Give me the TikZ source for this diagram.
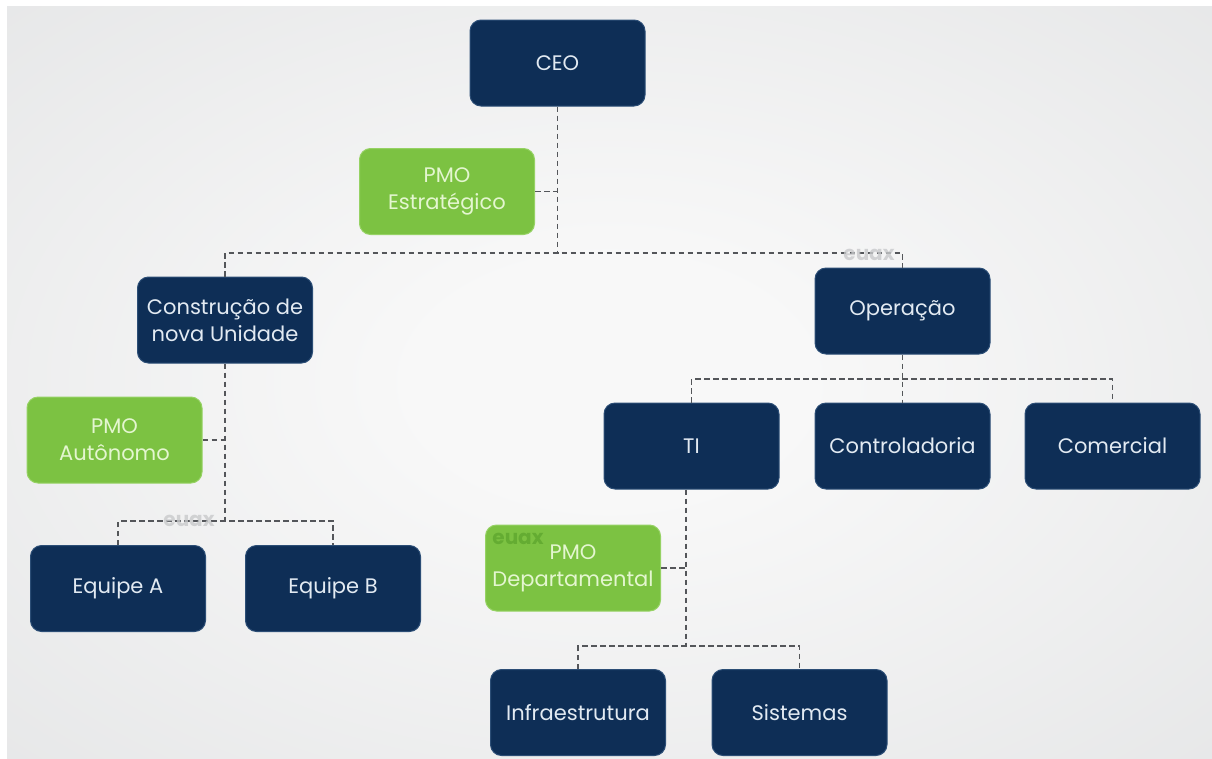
\documentclass[tikz,border=0pt]{standalone}
\usepackage{fontspec}
\setmainfont{Poppins}
\definecolor{navy}{RGB}{14,46,86}
\definecolor{navyedge}{RGB}{44,78,118}
\definecolor{navytext}{RGB}{226,234,242}
\definecolor{leaf}{RGB}{124,194,66}
\definecolor{leafedge}{RGB}{150,210,100}
\definecolor{leaftext}{RGB}{228,246,208}
\definecolor{linkgray}{RGB}{84,86,90}
\definecolor{bgcenter}{RGB}{248,248,248}
\definecolor{bgmid}{RGB}{227,228,229}
\definecolor{bgedge}{RGB}{208,209,211}
\definecolor{markgray}{RGB}{200,201,203}
\definecolor{markgreen}{RGB}{100,172,50}
\pgfdeclareradialshading{vignette}{\pgfpoint{0bp}{0bp}}{%
  color(0bp)=(bgcenter); color(8bp)=(bgcenter); color(42bp)=(bgmid); color(72bp)=(bgedge)}
\begin{document}
\begin{tikzpicture}[x=1pt,y=-1pt,
  box/.style={rectangle, rounded corners=11pt, minimum width=175pt, minimum height=86pt,
    align=center, inner sep=0pt, line width=1pt, font=\fontsize{21}{27}\selectfont},
  unit/.style={box, fill=navy, draw=navyedge, text=navytext},
  pmo/.style={box, fill=leaf, draw=leafedge, text=leaftext},
  link/.style={draw=linkgray, dash pattern=on 5.5pt off 3.5pt, line width=1.7pt},
  brand/.style={font=\fontsize{20}{20}\selectfont\bfseries, inner sep=0pt}]

% page and soft vignette background
\useasboundingbox (0,0) rectangle (1212,758);
\fill[white] (0,0) rectangle (1212,758);
\shade[shading=vignette] (7,6) rectangle (1212,758);

% boxes
\node[unit] (ceo)   at (557.5,63)  {CEO};
\node[pmo]  (pmoE)  at (447,191.5) {PMO\\Estratégico};
\node[unit] (cons)  at (225,320)   {Construção de\\nova Unidade};
\node[unit] (oper)  at (902.5,311) {Operação};
\node[pmo]  (pmoA)  at (114.5,440) {PMO\\Autônomo};
\node[unit] (ti)    at (691.5,446) {TI};
\node[unit] (ctrl)  at (902.5,446) {Controladoria};
\node[unit] (com)   at (1112.5,446) {Comercial};
\node[unit] (eqA)   at (118,588.5) {Equipe A};
\node[unit] (eqB)   at (333,588.5) {Equipe B};
\node[pmo]  (pmoD)  at (573,568)   {PMO\\Departamental};
\node[unit] (infra) at (578,712.5) {Infraestrutura};
\node[unit] (sist)  at (799.5,712.5) {Sistemas};

% junction points of the dashed links
\coordinate (bus1) at (557.5,253);
\coordinate (bus2) at (225,521);
\coordinate (bus3) at (902.5,379);
\coordinate (tiout) at ([xshift=-5.5pt]ti.south);
\coordinate (bus4) at (686,646);

% dashed links
\draw[link] (ceo.south) -- (bus1);
\draw[link] (pmoE.east) -- (pmoE.east -| ceo.south);
\draw[link] (cons.north) |- (bus1) -| (oper.north);
\draw[link] (cons.south) -- (bus2);
\draw[link] (pmoA.east) -- (pmoA.east -| cons.south);
\draw[link] (eqA.north) |- (bus2) -| (eqB.north);
\draw[link] (oper.south) -- (ctrl.north);
\draw[link] (ti.north) |- (bus3) -| (com.north);
\draw[link] (tiout) -- (bus4);
\draw[link] (pmoD.east) -- (pmoD.east -| bus4);
\draw[link] (infra.north) |- (bus4) -| (sist.north);

% faint euax marks
\node[brand, text=markgray, opacity=0.8] (m1) at (869,255) {euax};
\node[brand, text=markgray, opacity=0.8] (m2) at (189,521) {euax};
\node[brand, text=markgreen] (m3) at (518,539) {euax};
\end{tikzpicture}
\end{document}
